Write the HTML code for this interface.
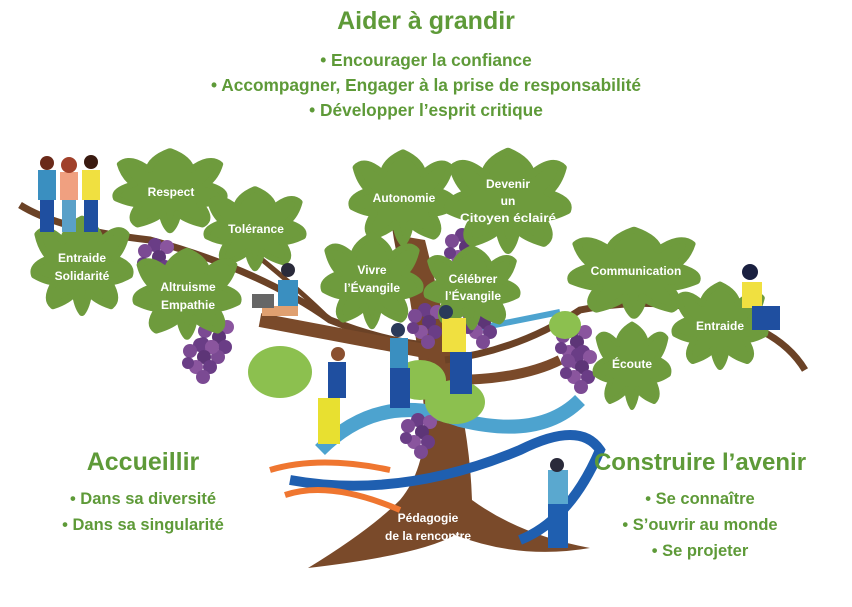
<!DOCTYPE html>
<html><head><meta charset="utf-8"><style>
html,body{margin:0;padding:0;background:#fff;}
body{width:852px;height:607px;overflow:hidden;position:relative;font-family:"Liberation Sans",sans-serif;}
.t{position:absolute;color:#5e9a38;font-weight:bold;text-align:center;white-space:nowrap;}
</style></head><body>
<svg width="852" height="607" style="position:absolute;left:0;top:0">
<defs>
<path id="lf" d="M0,-54 Q20,-44 22,-28 Q42,-48 52,-36 Q48,-18 38,-8 Q60,0 56,12 Q42,20 32,20 Q44,40 34,48 Q16,42 8,32 Q6,48 0,56 Q-6,48 -8,32 Q-16,42 -34,48 Q-44,40 -32,20 Q-42,20 -56,12 Q-60,0 -38,-8 Q-48,-18 -52,-36 Q-42,-48 -22,-28 Q-20,-44 0,-54 Z" fill="#6e9b3d" stroke="#6e9b3d" stroke-width="8" stroke-linejoin="round"/>
<g id="gr"><circle cx="0" cy="0" r="7" fill="#6a3d86"/><circle cx="12" cy="2" r="7" fill="#8a559e"/><circle cx="-10" cy="6" r="7" fill="#7b4a93"/><circle cx="4" cy="12" r="7" fill="#5d3577"/><circle cx="-4" cy="22" r="7" fill="#8a559e"/><circle cx="10" cy="22" r="7" fill="#6a3d86"/><circle cx="3" cy="32" r="7" fill="#7b4a93"/><circle cx="-12" cy="18" r="6" fill="#6a3d86"/></g>
</defs>
<!-- roots/trunk -->
<path d="M308,568 Q370,530 400,500 Q425,470 425,420 Q420,360 410,300 Q400,260 395,235 L425,240 Q445,320 455,380 Q470,440 472,500 Q520,535 590,548 Q520,560 455,535 Q420,555 308,568 Z" fill="#7a4a2a"/>
<!-- branches -->
<path d="M20,205 Q60,230 150,240 Q260,270 330,320 Q380,340 425,345" stroke="#6b4226" stroke-width="7" fill="none"/>
<path d="M250,250 Q300,290 330,320" stroke="#6b4226" stroke-width="5" fill="none"/>
<path d="M260,320 Q340,335 430,352" stroke="#7a4a2a" stroke-width="14" fill="none"/>
<path d="M445,360 Q520,350 580,310 Q680,290 760,330 Q790,345 805,370" stroke="#6b4226" stroke-width="7" fill="none"/>
<path d="M450,380 Q520,380 560,360" stroke="#7a4a2a" stroke-width="10" fill="none"/>
<path d="M400,250 Q390,200 395,170" stroke="#6b4226" stroke-width="8" fill="none"/>
<!-- swirls -->
<path d="M320,450 Q380,390 460,420 Q540,440 580,400" stroke="#4da3cf" stroke-width="14" fill="none"/>
<path d="M290,480 Q400,500 520,450 Q580,420 600,450 Q570,520 520,540" stroke="#1f5fb0" stroke-width="10" fill="none"/>
<path d="M470,330 Q520,320 560,312" stroke="#4da3cf" stroke-width="6" fill="none"/>
<path d="M270,470 Q320,455 390,470" stroke="#ef7630" stroke-width="6" fill="none"/>
<path d="M285,495 Q330,480 400,510" stroke="#ef7630" stroke-width="6" fill="none"/>
<!-- grapes -->
<use href="#gr" x="155" y="245"/><use href="#gr" x="215" y="325"/><use href="#gr" x="200" y="345"/>
<use href="#gr" x="462" y="235"/><use href="#gr" x="425" y="310"/><use href="#gr" x="480" y="310"/>
<use href="#gr" x="418" y="420"/><use href="#gr" x="573" y="330"/><use href="#gr" x="578" y="355"/>
<!-- light leaves -->
<g fill="#8cc04f"><ellipse cx="280" cy="372" rx="32" ry="26"/><ellipse cx="420" cy="380" rx="26" ry="20"/><ellipse cx="455" cy="402" rx="30" ry="22"/><ellipse cx="565" cy="325" rx="16" ry="14"/></g>
<!-- label leaves -->
<use href="#lf" transform="translate(170,190) scale(0.95,0.72)"/>
<use href="#lf" transform="translate(255,228) scale(0.85,0.72)"/>
<use href="#lf" transform="translate(82,265) scale(0.85,0.85)"/>
<use href="#lf" transform="translate(187,293) scale(0.9,0.78)"/>
<use href="#lf" transform="translate(403,197) scale(0.9,0.82)"/>
<use href="#lf" transform="translate(508,200) scale(1.05,0.9)"/>
<use href="#lf" transform="translate(372,280) scale(0.85,0.82)"/>
<use href="#lf" transform="translate(472,287) scale(0.8,0.72)"/>
<use href="#lf" transform="translate(634,272) scale(1.1,0.78)"/>
<use href="#lf" transform="translate(720,325) scale(0.8,0.75)"/>
<use href="#lf" transform="translate(632,365) scale(0.65,0.75)"/>
<!-- people (rough) -->
<g>
<rect x="38" y="170" width="18" height="30" fill="#3a8fc0"/><rect x="40" y="200" width="14" height="32" fill="#1f4fa0"/><circle cx="47" cy="163" r="7" fill="#6b2a1a"/>
<rect x="60" y="172" width="18" height="28" fill="#f0a080"/><rect x="62" y="200" width="14" height="32" fill="#5aa0c8"/><circle cx="69" cy="165" r="8" fill="#a0402a"/>
<rect x="82" y="170" width="18" height="30" fill="#f0e040"/><rect x="84" y="200" width="14" height="32" fill="#1f4fa0"/><circle cx="91" cy="162" r="7" fill="#3a1a10"/>
<rect x="278" y="280" width="20" height="26" fill="#3a8fc0"/><rect x="262" y="306" width="36" height="10" fill="#e0a070"/><circle cx="288" cy="270" r="7" fill="#2a2a3a"/><rect x="252" y="294" width="22" height="14" fill="#666"/>
<rect x="328" y="362" width="18" height="36" fill="#1f4fa0"/><rect x="318" y="398" width="22" height="46" fill="#e8e030"/><circle cx="338" cy="354" r="7" fill="#8a5030"/>
<rect x="390" y="338" width="18" height="30" fill="#3a8fc0"/><rect x="390" y="368" width="20" height="40" fill="#1f4fa0"/><circle cx="398" cy="330" r="7" fill="#2a3a5a"/>
<rect x="442" y="318" width="24" height="34" fill="#f0e040"/><rect x="450" y="352" width="22" height="42" fill="#1f4fa0"/><circle cx="446" cy="312" r="7" fill="#2a3a5a"/>
<rect x="548" y="470" width="20" height="34" fill="#5aa8cf"/><rect x="548" y="504" width="20" height="44" fill="#1f5fb0"/><circle cx="557" cy="465" r="7" fill="#2a2a3a"/>
<rect x="742" y="282" width="20" height="26" fill="#f0e040"/><rect x="752" y="306" width="28" height="24" fill="#1f4fa0"/><circle cx="750" cy="272" r="8" fill="#1a2040"/>
</g>
<g font-family="Liberation Sans,sans-serif" font-weight="bold" font-size="12" fill="#fff" text-anchor="middle">
<text x="171" y="196">Respect</text>
<text x="256" y="233">Tolérance</text>
<text x="82" y="262">Entraide</text><text x="82" y="280">Solidarité</text>
<text x="188" y="291">Altruisme</text><text x="188" y="309">Empathie</text>
<text x="404" y="202">Autonomie</text>
<text x="508" y="188">Devenir</text><text x="508" y="205">un</text><text x="508" y="222" textLength="96" lengthAdjust="spacingAndGlyphs">Citoyen éclairé</text>
<text x="372" y="274">Vivre</text><text x="372" y="292">l’Évangile</text>
<text x="473" y="283">Célébrer</text><text x="473" y="300">l’Évangile</text>
<text x="636" y="275">Communication</text>
<text x="720" y="330">Entraide</text>
<text x="632" y="368">Écoute</text>
<text x="428" y="522">Pédagogie</text><text x="428" y="540">de la rencontre</text>
</g>
</svg>
<div class="t" style="left:0;width:852px;top:7px;font-size:25px">Aider à grandir</div>
<div class="t" style="left:0;width:852px;top:48px;font-size:17.3px;line-height:25px">• Encourager la confiance<br>• Accompagner, Engager à la prise de responsabilité<br>• Développer l’esprit critique</div>
<div class="t" style="left:43px;width:200px;top:448px;font-size:25px">Accueillir</div>
<div class="t" style="left:43px;width:200px;top:486px;font-size:16.5px;line-height:26px">• Dans sa diversité<br>• Dans sa singularité</div>
<div class="t" style="left:580px;width:240px;top:449px;font-size:24px">Construire l’avenir</div>
<div class="t" style="left:580px;width:240px;top:486px;font-size:16.5px;line-height:26px">• Se connaître<br>• S’ouvrir au monde<br>• Se projeter</div>
</body></html>
